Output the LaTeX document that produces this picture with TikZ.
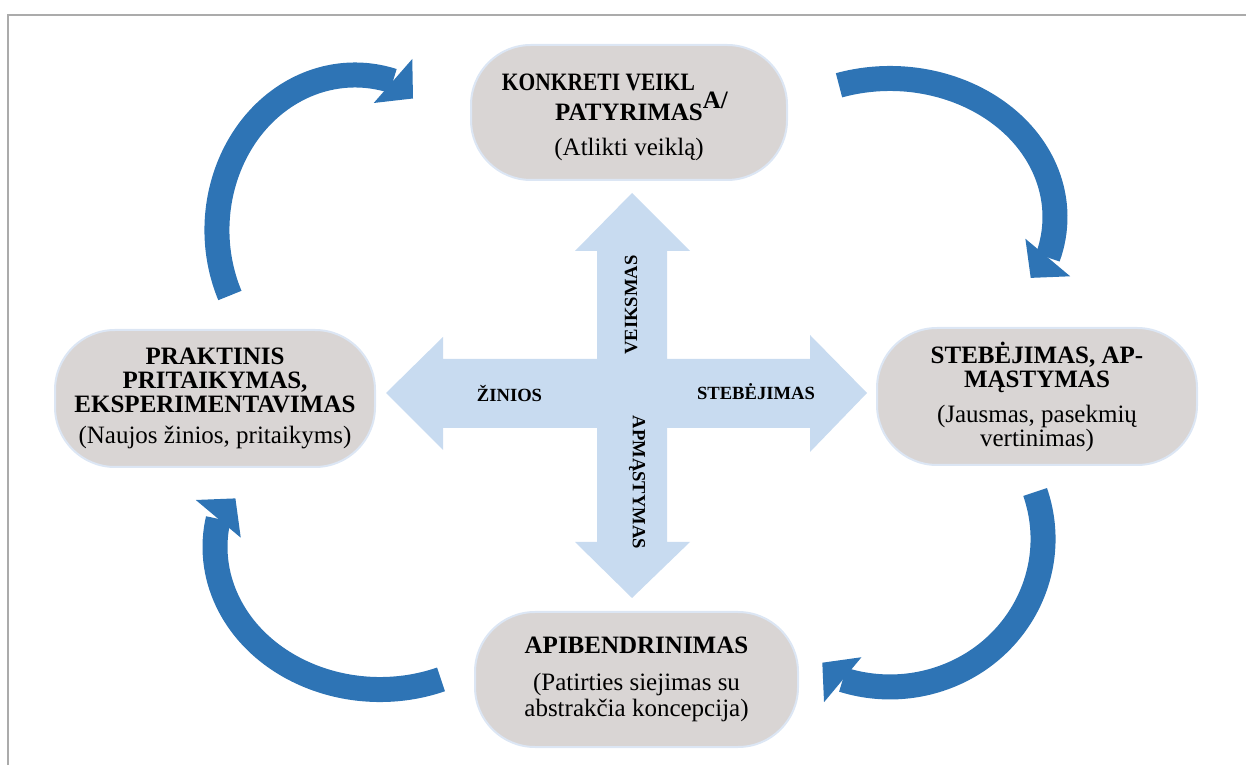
\documentclass[tikz,border=0pt]{standalone}
\usepackage{fontspec}
\setmainfont{Liberation Serif}
\usetikzlibrary{calc,positioning}

\definecolor{cycleblue}{HTML}{2E74B5}
\definecolor{crossblue}{HTML}{C8DBF0}
\definecolor{boxgray}{HTML}{D9D5D4}
\definecolor{boxedge}{HTML}{DCE6F4}
\definecolor{framegray}{HTML}{ABABAB}

\begin{document}
\begin{tikzpicture}[x=0.5pt,y=0.5pt,
        stage/.style={shape=rectangle,rounded corners=30pt,fill=boxgray,draw=boxedge,line width=1pt,align=center,inner sep=0pt,font=\fontsize{12.5}{12}\selectfont},
        crosslabel/.style={font=\fontsize{9.3}{10}\selectfont\bfseries,inner sep=0pt},
        band/.style={draw=cycleblue,line width=12.5pt},
        ]
\useasboundingbox (0,0) rectangle (1246,765);
\draw[framegray,line width=1pt] (8,0) -- (8,750) -- (1246,750);

% the four stages
\node [stage, minimum width=158pt, minimum height=67.5pt] (act) at (629,652.5)
    {\rule{0pt}{13pt}\scalebox{0.86}[1]{\textbf{KONKRETI VEIKL}}\hspace{4pt}\raisebox{-9pt}[0pt][0pt]{\textbf{A/}}\hspace*{14pt}\\[3pt]
     \textbf{PATYRIMAS}\\[5.5pt](Atlikti veiklą)};
\node [stage, minimum width=160pt, minimum height=68.5pt] (reflect) at (1037,368.5)
    {\textbf{STEBĖJIMAS, AP-}\\\textbf{MĄSTYMAS}\\[5.5pt](Jausmas, pasekmių\\vertinimas)};
\node [stage, minimum width=161.5pt, minimum height=67.5pt] (general) at (636.5,85.5)
    {\textbf{APIBENDRINIMAS}\\[6.5pt](Patirties siejimas su\\[1pt]abstrakčia koncepcija)};
\node [stage, minimum width=160pt, minimum height=68.5pt] (apply) at (215,366.5)
    {\textbf{PRAKTINIS}\\\textbf{PRITAIKYMAS,}\\\textbf{EKSPERIMENTAVIMAS}\\[3.5pt](Naujos žinios, pritaikyms)};

% cross in the middle
\fill[crossblue] (597,406) -- (597,514) -- (575,514) -- (632,572) -- (690,514) -- (667,514)
    -- (667,406) -- (810,406) -- (810,430) -- (867,372) -- (810,313) -- (810,337)
    -- (667,337) -- (667,223) -- (690,223) -- (632,167) -- (575,223) -- (597,223)
    -- (597,337) -- (443,337) -- (443,315) -- (386,372) -- (443,428) -- (443,406) -- cycle;
\node [crosslabel, rotate=90] (veiksmas) at (631,460) {VEIKSMAS};
\node [crosslabel, rotate=-90] (apmastymas) at (637,282.5) {APMĄSTYMAS};
\node [crosslabel, anchor=base] (zinios) at (509.5,363) {ŽINIOS};
\node [crosslabel, anchor=base] (stebejimas) at (756,365) {STEBĖJIMAS};

% cycle arrows
\coordinate (tl-tail) at (229.9,469.5);
\coordinate (tl-tip) at (413,666.5);
\coordinate (tr-tail) at (839,679.7);
\coordinate (tr-tip) at (1030.7,487.1);
\coordinate (br-tail) at (1035.1,273);
\coordinate (br-tip) at (822.3,102.3);
\coordinate (bl-tail) at (441,85.6);
\coordinate (bl-tip) at (235.4,266.6);

\draw[band] (tl-tail) arc[start angle=205,end angle=74,x radius=138,y radius=155] coordinate (tl-base);
\draw[band] (tr-tail) arc[start angle=108,end angle=-17,x radius=165,y radius=138.5] coordinate (tr-base);
\draw[band] (br-tail) arc[start angle=18.5,end angle=-108,x radius=153,y radius=148] coordinate (br-base);
\draw[band] (bl-tail) arc[start angle=-68.3,end angle=-191.4,x radius=165,y radius=142.5] coordinate (bl-base);

\foreach \a in {tl,tr,br,bl}
    \fill[cycleblue] (\a-tip) -- ($(\a-base)!1.1!90:(\a-tip)$) -- ($(\a-base)!1.1!-90:(\a-tip)$) -- cycle;

\end{tikzpicture}
\end{document}
